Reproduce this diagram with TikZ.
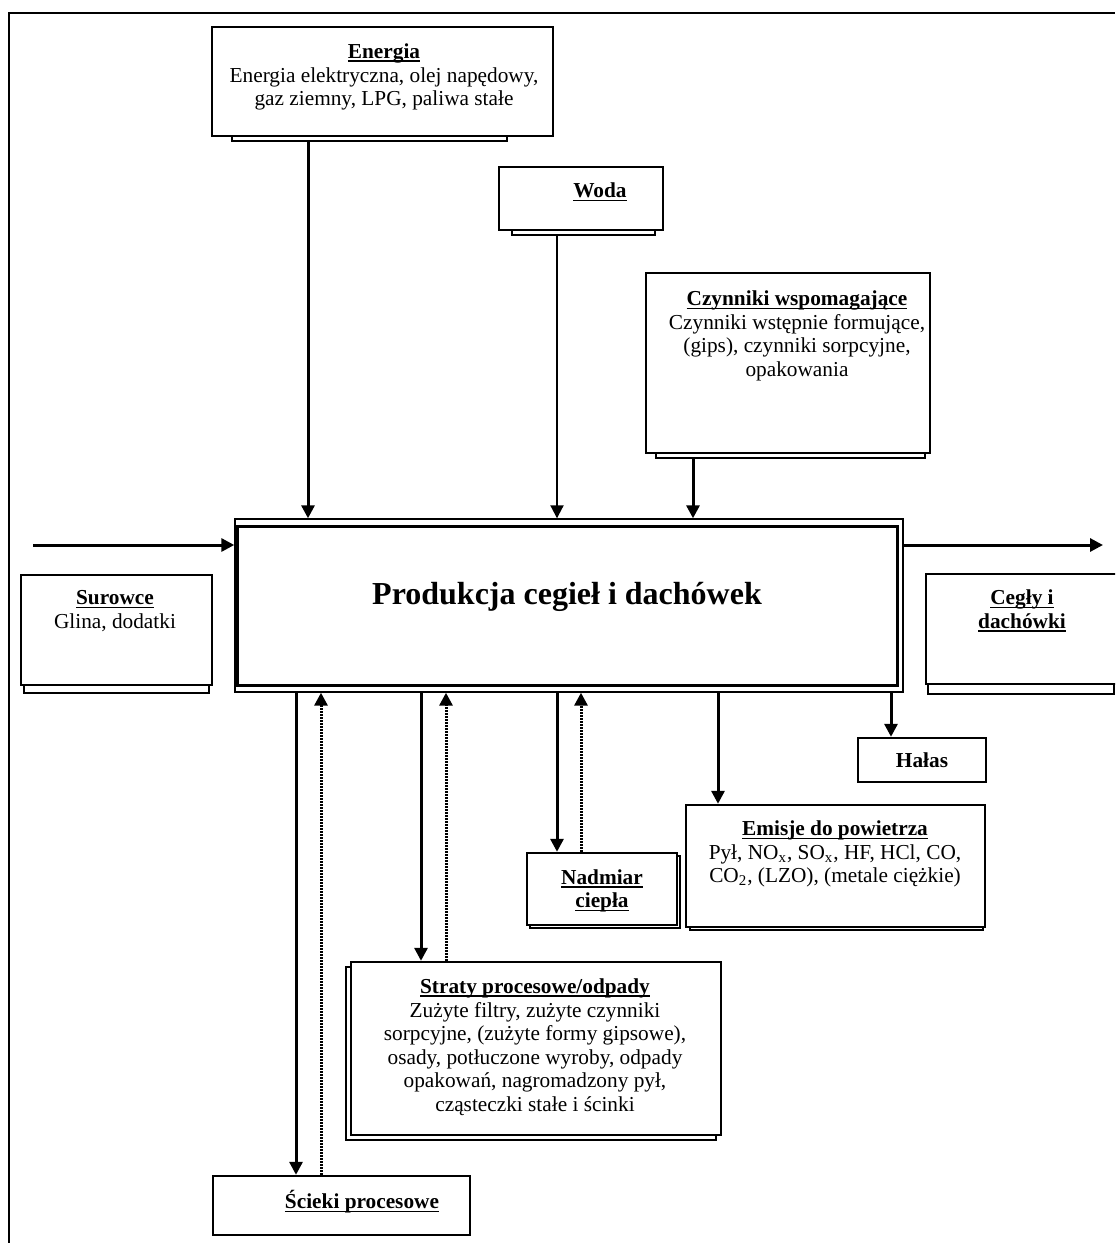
\documentclass[tikz,border=0pt]{standalone}
\usepackage{fontspec}
\setmainfont{Liberation Serif}
\usetikzlibrary{fit,arrows.meta}
% underline at a fixed depth below the baseline, through the descenders
\newcommand{\ulh}[1]{\setbox0\hbox{#1}\rlap{\rule[-1.7pt]{\wd0}{0.75pt}}\box0}
\begin{document}
\begin{tikzpicture}[x=0.5pt,y=-0.5pt,
  box/.style={draw, line width=1.2pt, inner sep=0pt, fill=white},
  under/.style={draw, line width=0.7pt, inner sep=0pt, fill=white},
  txt/.style={align=center, font=\fontsize{10.65}{11.75}\selectfont, inner sep=0pt},
  arr/.style={line width=1.5pt, -{Triangle[length=6.5pt,width=6.5pt]}},
  back/.style={line width=1.5pt, dash pattern=on 0.8pt off 0.7pt, -{Triangle[length=6.5pt,width=6.5pt]}}]
\clip (0,0) rectangle (1115,1243);
\fill[white] (0,0) rectangle (1115,1243);

% frame
\draw[line width=0.7pt] (9,1243) -- (9,13) -- (1115,13);

% shadow plates behind the boxes
\node[under, fit={(232,131) (507,141)}] (energiash) {};
\node[under, fit={(512,225) (655,235)}] (wodash) {};
\node[under, fit={(656,448) (925,458)}] (czynsh) {};
\node[under, fit={(24,680) (209,693)}] (surowcesh) {};
\node[under, fit={(928,679) (1114,694)}] (ceglysh) {};
\node[under, fit={(690,810) (983,930)}] (emisjesh) {};
\node[under, fit={(530,856) (680,928)}] (nadmiarsh) {};
\node[under, fit={(346,967) (716,1140)}] (stratysh) {};

% boxes
\node[box, fit={(212,27) (553,136)}] (energia) {};
\node[box, fit={(499,167) (663,230)}] (woda) {};
\node[box, fit={(646,273) (930,453)}] (czyn) {};
\node[under, fit={(235,519) (903,692)}] (main) {};
\node[draw, line width=1.5pt, inner sep=0pt, fit={(237,526) (897,685)}] (maininner) {};
\node[box, fit={(21,575) (212,685)}] (surowce) {};
\node[box, fit={(926,574) (1125,684)}] (cegly) {};
\node[box, fit={(858,738) (986,782)}] (halas) {};
\node[box, fit={(686,805) (985,927)}] (emisje) {};
\node[box, fit={(527,853) (677,925)}] (nadmiar) {};
\node[box, fit={(351,962) (721,1135)}] (straty) {};
\node[box, fit={(213,1176) (470,1235)}] (scieki) {};

% texts
\node[txt] (tenergia) at (384,77) {\ulh{\textbf{Energia}}\\Energia elektryczna, olej napędowy,\\gaz ziemny, LPG, paliwa stałe};
\node[txt] (twoda) at (600,192) {\ulh{\textbf{Woda}}};
\node[txt] (tczyn) at (797,336) {\ulh{\textbf{Czynniki wspomagające}}\\Czynniki wstępnie formujące,\\(gips), czynniki sorpcyjne,\\opakowania};
\node[txt] (tsurowce) at (115,611) {\ulh{\textbf{Surowce}}\\Glina, dodatki};
\node[txt] (tcegly) at (1022,611) {\ulh{\textbf{Cegły i}}\\\ulh{\textbf{dachówki}}};
\node[txt, font=\fontsize{16}{19}\selectfont\bfseries] (tmain) at (567,597) {Produkcja cegieł i dachówek};
\node[txt] (thalas) at (922,760) {\textbf{Hałas}};
\node[txt] (temisje) at (835,854) {\ulh{\textbf{Emisje do powietrza}}\\Pył, NO\textsubscript{x}, SO\textsubscript{x}, HF, HCl, CO,\\CO\textsubscript{2}, (LZO), (metale ciężkie)};
\node[txt] (tnadmiar) at (602,891) {\ulh{\textbf{Nadmiar}}\\\ulh{\textbf{ciepła}}};
\node[txt] (tstraty) at (535,1047) {\ulh{\textbf{Straty procesowe/odpady}}\\Zużyte filtry, zużyte czynniki\\sorpcyjne, (zużyte formy gipsowe),\\osady, potłuczone wyroby, odpady\\opakowań, nagromadzony pył,\\cząsteczki stałe i ścinki};
\node[txt] (tscieki) at (362,1202) {\ulh{\textbf{Ścieki procesowe}}};

% x positions of the vertical connectors
\coordinate (xa) at (308,0);
\coordinate (xb) at (557,0);
\coordinate (xc) at (693,0);
\coordinate (xd) at (296,0);
\coordinate (xe) at (321,0);
\coordinate (xf) at (421,0);
\coordinate (xg) at (446,0);
\coordinate (xh) at (557,0);
\coordinate (xi) at (581,0);
\coordinate (xj) at (718,0);
\coordinate (xk) at (891,0);
\coordinate (in) at (33,545);
\coordinate (out) at (1103,545);

% inputs
\draw[arr] (energiash.south -| xa) -- (main.north -| xa);
\draw[arr, line width=1pt] (wodash.south -| xb) -- (main.north -| xb);
\draw[arr] (czynsh.south -| xc) -- (main.north -| xc);
\draw[arr] (in) -- (main.west |- in);
\draw[arr] (main.east |- out) -- (out);

% outputs and returns
\draw[arr] (main.south -| xd) -- (scieki.north -| xd);
\draw[back] (scieki.north -| xe) -- (main.south -| xe);
\draw[arr] (main.south -| xf) -- (straty.north -| xf);
\draw[back] (straty.north -| xg) -- (main.south -| xg);
\draw[arr] (main.south -| xh) -- (nadmiar.north -| xh);
\draw[back] (nadmiar.north -| xi) -- (main.south -| xi);
\draw[arr] (main.south -| xj) -- (emisje.north -| xj);
\draw[arr] (main.south -| xk) -- (halas.north -| xk);
\end{tikzpicture}
\end{document}
